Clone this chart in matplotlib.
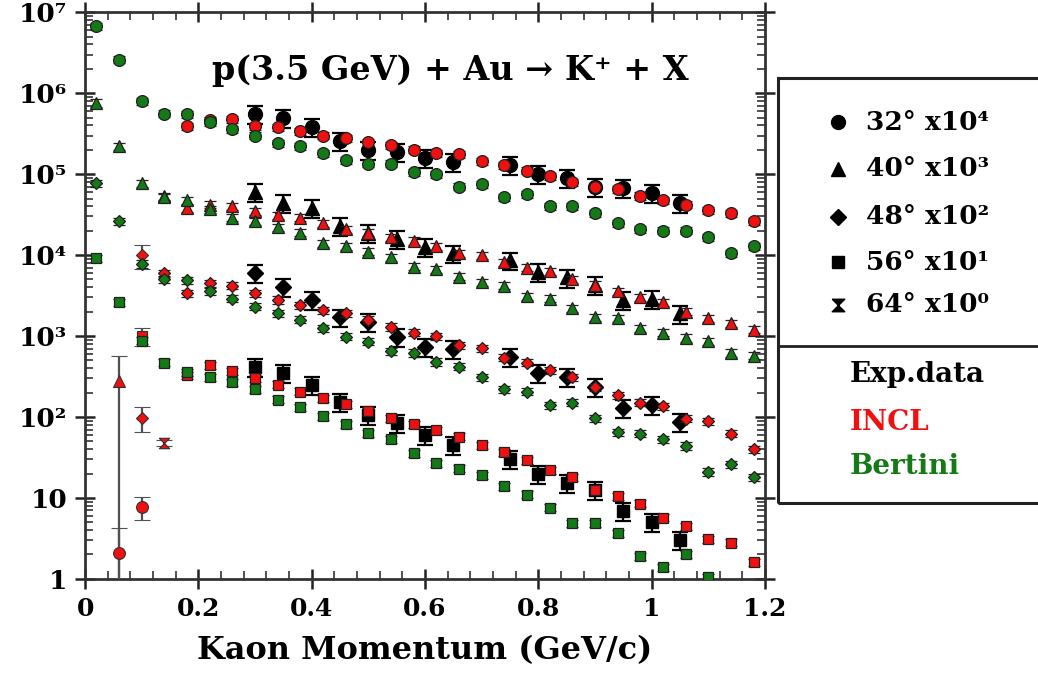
import numpy as np
import matplotlib
matplotlib.use("Agg")
import matplotlib.pyplot as plt
from matplotlib.lines import Line2D
from matplotlib.patches import Rectangle
from matplotlib.ticker import FixedLocator, MultipleLocator, LogLocator, NullFormatter

plt.rcParams['font.family'] = ['DejaVu Serif']
plt.rcParams['font.weight'] = 'bold'

# momentum grids (GeV/c)
p_model = [0.02, 0.06, 0.10, 0.14, 0.18, 0.22, 0.26, 0.30, 0.34, 0.38,
           0.42, 0.46, 0.50, 0.54, 0.58, 0.62, 0.66, 0.70, 0.74, 0.78,
           0.82, 0.86, 0.90, 0.94, 0.98, 1.02, 1.06, 1.10, 1.14, 1.18]
p_exp = [0.30, 0.35, 0.40, 0.45, 0.50, 0.55, 0.60, 0.65, 0.70, 0.75,
         0.80, 0.85, 0.90, 0.95, 1.00, 1.05]

nan = np.nan

# Bertini cascade (already scaled)
bertini_32 = [6.7e6, 2.6e6, 8.0e5, 5.6e5, 5.5e5, 4.4e5, 3.6e5, 3.0e5, 2.4e5, 2.2e5,
              1.8e5, 1.5e5, 1.35e5, 1.35e5, 1.05e5, 1.0e5, 7.0e4, 7.5e4, 5.2e4, 5.7e4,
              4.0e4, 4.0e4, 3.3e4, 2.5e4, 2.1e4, 2.0e4, 2.0e4, 1.66e4, 1.05e4, 1.3e4]
bertini_40 = [7.6e5, 2.2e5, 7.8e4, 5.2e4, 4.8e4, 3.7e4, 2.9e4, 2.6e4, 2.2e4, 1.9e4,
              1.4e4, 1.3e4, 1.1e4, 9.5e3, 7.2e3, 6.7e3, 5.4e3, 4.6e3, 4.2e3, 3.1e3,
              2.9e3, 2.2e3, 1.7e3, 1.66e3, 1.26e3, 1.1e3, 950, 870, 620, 570]
bertini_48 = [7.8e4, 2.6e4, 7.8e3, 5.0e3, 4.9e3, 3.6e3, 2.9e3, 2.3e3, 1.9e3, 1.6e3,
              1.26e3, 980, 850, 650, 620, 480, 420, 310, 220, 205,
              140, 150, 97, 65, 62, 53, 44, 21, 26, 18]
bertini_56 = [9.1e3, 2.6e3, 880, 470, 360, 310, 270, 220, 163, 132,
              102, 81, 63, 53, 36, 27, 23, 19, 14, 11,
              7.6, 4.9, 4.9, 3.7, 1.9, 1.4, 2.0, 1.05, nan, nan]

# INCL cascade (already scaled)
incl_32 = [nan, nan, nan, nan, 3.9e5, 4.6e5, 4.8e5, 3.9e5, 3.8e5, 3.4e5,
           3.0e5, 2.8e5, 2.5e5, 2.3e5, 2.0e5, 1.8e5, 1.75e5, 1.45e5, 1.3e5, 1.1e5,
           9.5e4, 8.0e4, 7.0e4, 6.5e4, 5.4e4, 4.8e4, 4.2e4, 3.6e4, 3.3e4, 2.6e4]
incl_40 = [nan, nan, nan, 5.3e4, 3.8e4, 4.2e4, 4.0e4, 3.5e4, 3.1e4, 2.9e4,
           2.5e4, 2.1e4, 1.9e4, 1.66e4, 1.5e4, 1.3e4, 1.05e4, 1.0e4, 8.2e3, 7.0e3,
           6.3e3, 5.0e3, 4.3e3, 3.6e3, 3.0e3, 2.6e3, 2.0e3, 1.66e3, 1.45e3, 1.2e3]
incl_48 = [nan, nan, nan, 6.0e3, 3.4e3, 4.5e3, 4.2e3, 3.4e3, 2.8e3, 2.4e3,
           2.1e3, 1.9e3, 1.6e3, 1.3e3, 1.1e3, 1.0e3, 770, 710, 540, 470,
           380, 310, 235, 186, 150, 137, 95, 88, 62, 40]
incl_56 = [nan, nan, nan, nan, 330, 440, 370, 300, 250, 205,
           170, 145, 118, 97, 82, 69, 57, 45, 37, 29,
           22, 18, 12.5, 10.5, 8.5, 5.7, 4.5, 3.1, 2.8, 1.6]

# INCL points at low momentum with large statistical errors
incl_low_p = [0.06, 0.06, 0.10, 0.10, 0.10, 0.10, 0.14]
incl_low_val = [280, 2.1, 1.0e4, 1.0e3, 98, 7.8, 48]
incl_low_err = [280, 2.1, 3.2e3, 250, 33, 2.5, 4]
incl_low_angle = [40, 32, 48, 56, 48, 32, 64]

# experimental data (already scaled)
exp_32 = [5.6e5, 5.0e5, 3.8e5, 2.6e5, 2.0e5, 1.9e5, 1.6e5, 1.4e5, nan, 1.3e5,
          1.0e5, 9.0e4, 7.0e4, 6.8e4, 5.9e4, 4.4e4]
exp_40 = [6.0e4, 4.4e4, 3.8e4, 2.3e4, 1.9e4, 1.6e4, 1.26e4, 1.05e4, nan, 8.6e3,
          6.2e3, 5.3e3, 4.3e3, 2.8e3, 2.9e3, 1.9e3]
exp_48 = [6.0e3, 4.0e3, 2.8e3, 1.7e3, 1.5e3, 970, 730, 690, nan, 550,
          350, 310, 235, 130, 140, 87]
exp_56 = [420, 350, 250, 155, 105, 85, 60, 45, nan, 30,
          20, 15.5, 12.5, 6.9, 5.0, 3.0]

exp_rel_err = 0.25
model_rel_err = 0.10

angles = [32, 40, 48, 56, 64]
angle_labels = ['32° x10⁴', '40° x10³', '48° x10²', '56° x10¹', '64° x10⁰']

hourglass = [(-1, 1), (1, 1), (-1, -1), (1, -1), (-1, 1)]
markers = {32: 'o', 40: '^', 48: 'D', 56: 's', 64: hourglass}
msize = {32: 8.5, 40: 8.5, 48: 6.5, 56: 7.5, 64: 7.5}

RED = '#f01010'
GREEN = '#137a16'

bertini = {32: bertini_32, 40: bertini_40, 48: bertini_48, 56: bertini_56}
incl = {32: incl_32, 40: incl_40, 48: incl_48, 56: incl_56}
expdata = {32: exp_32, 40: exp_40, 48: exp_48, 56: exp_56}

fig = plt.figure(figsize=(10.38, 6.81), dpi=100)
ax = fig.add_axes([0.082, 0.150, 0.655, 0.832])

for a in [32, 40, 48, 56]:
    e = np.array(expdata[a])
    ax.errorbar(p_exp, e, yerr=exp_rel_err * e, ls='none', marker=markers[a],
                color='black', ms=msize[a] + 1.5, mec='black', ecolor='black',
                elinewidth=1.6, capsize=6, capthick=1.6, zorder=3)
    r = np.array(incl[a])
    ax.errorbar(p_model, r, yerr=model_rel_err * r, ls='none', marker=markers[a],
                color=RED, ms=msize[a], mec='#202020', mew=0.9, ecolor='#202020',
                elinewidth=1.2, capsize=4, capthick=1.2, zorder=4)
    b = np.array(bertini[a])
    ax.errorbar(p_model, b, yerr=model_rel_err * b, ls='none', marker=markers[a],
                color=GREEN, ms=msize[a], mec='#202020', mew=0.9, ecolor='#202020',
                elinewidth=1.2, capsize=4, capthick=1.2, zorder=5)

for p, v, err, a in zip(incl_low_p, incl_low_val, incl_low_err, incl_low_angle):
    ax.errorbar([p], [v], yerr=[[min(err, v * 0.999)], [err]], ls='none',
                marker=markers[a], color=RED, ms=msize[a], mec='#303030', mew=0.8,
                ecolor='#505050', elinewidth=1.6, capsize=6, capthick=1.6, zorder=4)

ax.set_yscale('log')
ax.set_xlim(0, 1.2)
ax.set_ylim(1, 1e7)

ax.xaxis.set_minor_locator(MultipleLocator(0.04))
ax.set_xticks([0, 0.2, 0.4, 0.6, 0.8, 1.0, 1.2])
ax.set_xticklabels(['0', '0.2', '0.4', '0.6', '0.8', '1', '1.2'])
ax.yaxis.set_major_locator(FixedLocator([1, 10, 1e2, 1e3, 1e4, 1e5, 1e6, 1e7]))
ax.set_yticklabels(['1', '10', '10²', '10³', '10⁴', '10⁵', '10⁶', '10⁷'])
ax.yaxis.set_minor_locator(LogLocator(base=10, subs=np.arange(2, 10), numticks=20))
ax.yaxis.set_minor_formatter(NullFormatter())

ax.tick_params(which='major', direction='inout', length=14, width=1.8,
               top=True, right=True, pad=6, colors='#222222', labelcolor='black')
ax.tick_params(axis='x', which='major', labelsize=18)
ax.tick_params(axis='y', which='major', labelsize=19)
ax.tick_params(which='minor', direction='in', length=6, width=1.2,
               top=True, right=True, colors='#333333')
for s in ax.spines.values():
    s.set_linewidth(2.0)
    s.set_color('#333333')

ax.set_xlabel('Kaon Momentum (GeV/c)', fontsize=23, fontweight='bold', labelpad=10)

ax.text(0.537, 0.898, 'p(3.5 GeV) + Au → K⁺ + X', transform=ax.transAxes,
        ha='center', va='center', fontsize=24, fontweight='bold')

# legend panel on the right
W, H = 1038.0, 681.0
def fx(px):
    return px / W
def fy(py):
    return 1 - py / H

fig.add_artist(Rectangle((fx(778), fy(503)), fx(1060) - fx(778), fy(78) - fy(503),
                         transform=fig.transFigure, fill=False, lw=2.2,
                         edgecolor='#222222', clip_on=False))
fig.add_artist(Line2D([fx(778), fx(1040)], [fy(346), fy(346)],
                      transform=fig.transFigure, lw=2.0, color='#222222'))

legend_y = [122, 169, 217, 262, 305]
for a, lab, py in zip(angles, angle_labels, legend_y):
    fig.add_artist(Line2D([fx(838)], [fy(py)], transform=fig.transFigure,
                          marker=markers[a], ms=msize[a] + 1.5, color='black', lw=0))
    fig.text(fx(866), fy(py), lab, ha='left', va='center', fontsize=19,
             fontweight='bold')

fig.text(fx(850), fy(375), 'Exp.data', ha='left', va='center', fontsize=20,
         fontweight='bold', color='black')
fig.text(fx(850), fy(422), 'INCL', ha='left', va='center', fontsize=20,
         fontweight='bold', color=RED)
fig.text(fx(850), fy(467), 'Bertini', ha='left', va='center', fontsize=20,
         fontweight='bold', color=GREEN)

fig.savefig('out.png', dpi=100)
